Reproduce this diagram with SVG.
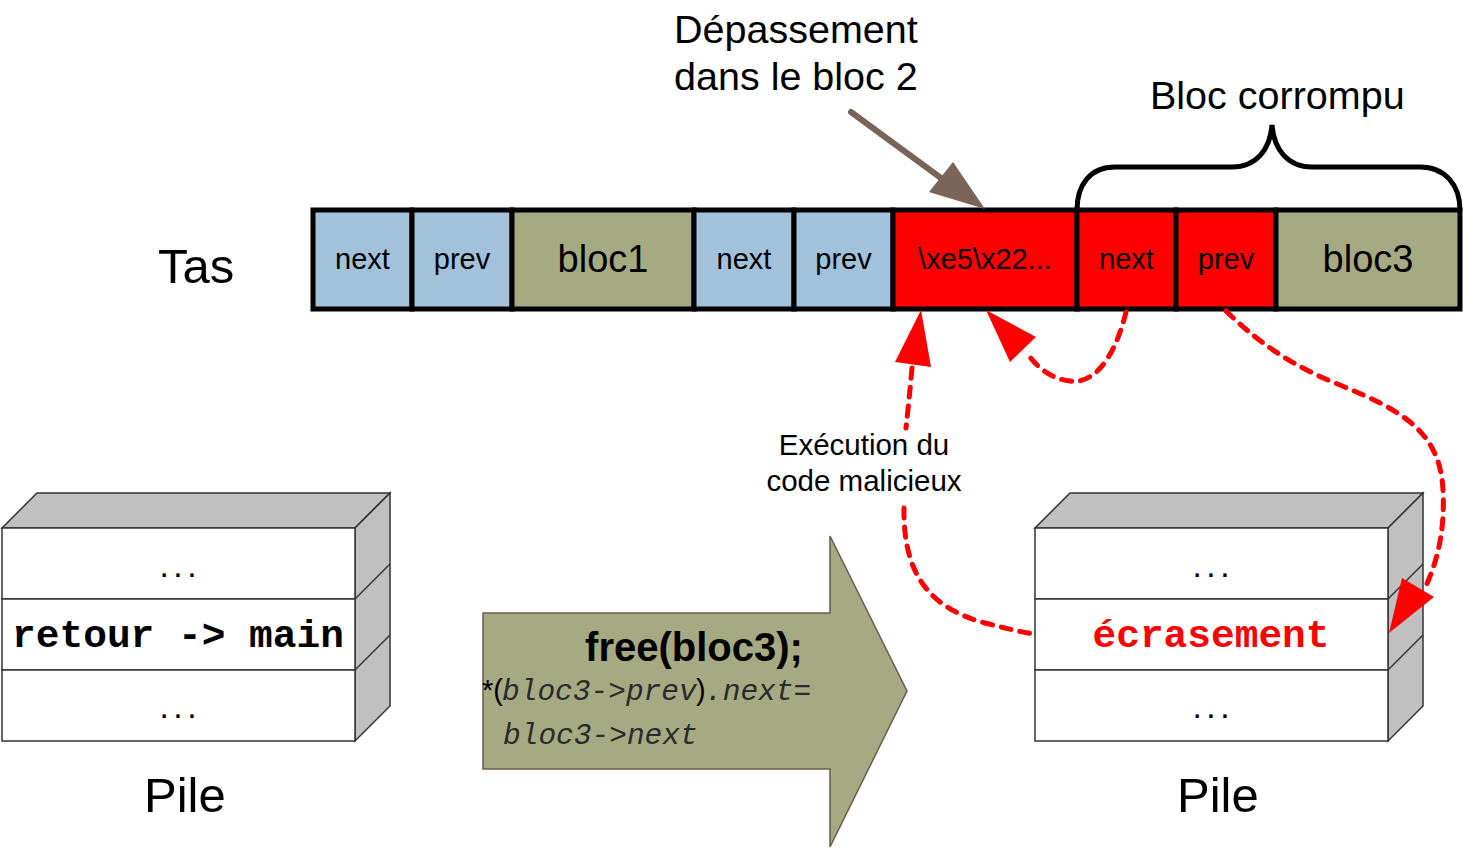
<svg xmlns="http://www.w3.org/2000/svg" width="1463" height="848" viewBox="0 0 1463 848">
<style>
.sans{font-family:"Liberation Sans",Arial,sans-serif;}
.mono{font-family:"Liberation Mono","Courier New",monospace;}
.cell{stroke:#000;stroke-width:5;}
.blue{fill:#a2c1da;}
.olive{fill:#a5aa82;}
.red{fill:#ff0000;}
.clab{font-family:"Liberation Sans",Arial,sans-serif;font-size:29px;text-anchor:middle;fill:#000;}
.blab{font-family:"Liberation Sans",Arial,sans-serif;font-size:38px;text-anchor:middle;fill:#000;}
.big{font-family:"Liberation Sans",Arial,sans-serif;font-size:49px;fill:#000;}
.note{font-family:"Liberation Sans",Arial,sans-serif;font-size:39.5px;fill:#000;}
.face{fill:#fff;stroke:#333;stroke-width:1.5;}
.side{fill:#c0c0c0;stroke:#333;stroke-width:1.5;}
.dots{font-family:"Liberation Mono","Courier New",monospace;font-size:23px;font-weight:bold;text-anchor:middle;}
.slab{font-family:"Liberation Mono","Courier New",monospace;font-size:39.5px;font-weight:bold;text-anchor:middle;}
.dash{fill:none;stroke:#ff0000;stroke-width:5;stroke-dasharray:10 9;stroke-linecap:round;}
.head{fill:#ff0000;}
.code{font-family:"Liberation Mono","Courier New",monospace;font-style:italic;font-size:29.5px;fill:#2a2a2a;}
</style>

<g id="tas-label"><text class="big" x="158" y="283" font-size="50">Tas</text></g>

<g id="heap">
  <g id="cell-next1"><rect class="cell blue" x="313" y="210" width="99" height="99"/><text class="clab" x="362.5" y="269">next</text></g>
  <g id="cell-prev1"><rect class="cell blue" x="412" y="210" width="100" height="99"/><text class="clab" x="462" y="269">prev</text></g>
  <g id="cell-bloc1"><rect class="cell olive" x="512" y="210" width="182" height="99"/><text class="blab" x="603" y="272">bloc1</text></g>
  <g id="cell-next2"><rect class="cell blue" x="694" y="210" width="100" height="99"/><text class="clab" x="744" y="269">next</text></g>
  <g id="cell-prev2"><rect class="cell blue" x="794" y="210" width="99" height="99"/><text class="clab" x="843.5" y="269">prev</text></g>
  <g id="cell-bloc2"><rect class="cell red" x="893" y="210" width="184" height="99"/><text class="clab" x="985" y="269">\xe5\x22...</text></g>
  <g id="cell-next3"><rect class="cell red" x="1077" y="210" width="99" height="99"/><text class="clab" x="1126.5" y="269">next</text></g>
  <g id="cell-prev3"><rect class="cell red" x="1176" y="210" width="100" height="99"/><text class="clab" x="1226" y="269">prev</text></g>
  <g id="cell-bloc3"><rect class="cell olive" x="1276" y="210" width="184" height="99"/><text class="blab" x="1368" y="272">bloc3</text></g>
</g>

<g id="depassement">
  <text class="note" x="674" y="43">Dépassement</text>
  <text class="note" x="674" y="90">dans le bloc 2</text>
  <line x1="851" y1="112" x2="945" y2="181" stroke="#7a6357" stroke-width="6" stroke-linecap="round"/>
  <polygon points="985,209 929,192 953,162" fill="#7a6357"/>
</g>

<g id="bloc-corrompu">
  <text class="note" x="1150" y="109">Bloc corrompu</text>
  <path d="M1077,210 C1077,185 1090,167 1115,167 L1232,167 C1256,167 1270,150 1272,125 C1274,150 1288,167 1312,167 L1420,167 C1445,167 1460,185 1460,210" fill="none" stroke="#000" stroke-width="5"/>
</g>

<g id="pile-left">
  <polygon class="side" points="2,528 37,493 390,493 355,528"/>
  <polygon class="side" points="355,528 390,493 390,706 355,741"/>
  <line x1="355" y1="599" x2="390" y2="564" stroke="#333" stroke-width="1.5"/>
  <line x1="355" y1="670" x2="390" y2="635" stroke="#333" stroke-width="1.5"/>
  <rect class="face" x="2" y="528" width="353" height="71"/>
  <rect class="face" x="2" y="599" width="353" height="71"/>
  <rect class="face" x="2" y="670" width="353" height="71"/>
  <text class="dots" x="178" y="577">...</text>
  <text class="slab" x="178" y="647">retour -&gt; main</text>
  <text class="dots" x="178" y="718">...</text>
  <text class="big" x="144" y="812">Pile</text>
</g>

<g id="pile-right">
  <polygon class="side" points="1035,528 1070,493 1423,493 1388,528"/>
  <polygon class="side" points="1388,528 1423,493 1423,706 1388,741"/>
  <line x1="1388" y1="599" x2="1423" y2="564" stroke="#333" stroke-width="1.5"/>
  <line x1="1388" y1="670" x2="1423" y2="635" stroke="#333" stroke-width="1.5"/>
  <rect class="face" x="1035" y="528" width="353" height="71"/>
  <rect class="face" x="1035" y="599" width="353" height="71"/>
  <rect class="face" x="1035" y="670" width="353" height="71"/>
  <text class="dots" x="1211" y="577">...</text>
  <text class="slab" x="1211" y="647" fill="#ff0000">écrasement</text>
  <text class="dots" x="1211" y="718">...</text>
  <text class="big" x="1177" y="812">Pile</text>
</g>

<g id="free-arrow">
  <polygon points="483,613 830,613 830,536 907,691 830,847 830,769 483,769" fill="#a5aa82" stroke="#6b5b4e" stroke-width="1.5"/>
  <text class="sans" x="694" y="661" font-size="40" font-weight="bold" text-anchor="middle">free(bloc3);</text>
  <text y="700"><tspan class="sans" x="482" font-size="29" fill="#000">*(</tspan><tspan class="code" x="502">bloc3-&gt;prev</tspan><tspan class="sans" x="696" font-size="29" fill="#000">)</tspan><tspan class="code" x="705">.next=</tspan></text>
  <text class="code" x="503" y="744">bloc3-&gt;next</text>
</g>

<g id="execution-label">
  <text class="sans" x="864" y="455" font-size="29.5" text-anchor="middle">Exécution du</text>
  <text class="sans" x="864" y="491" font-size="29.5" text-anchor="middle">code malicieux</text>
</g>

<g id="connectors">
  <path class="dash" d="M912,368 C910,390 908,410 906,428"/>
  <path class="dash" d="M904,508 C903,575 930,608 985,623 C1005,628 1020,632 1034,634"/>
  <polygon class="head" points="921,310 895,362 931,367"/>
  <path class="dash" d="M1126,312 C1118,345 1100,385 1070,381 C1050,379 1036,366 1026,352"/>
  <polygon class="head" points="986,310 1010,362 1036,337"/>
  <path class="dash" d="M1226,311 C1258,342 1290,365 1340,385 C1400,410 1440,430 1443,490 C1445,530 1438,560 1425,588"/>
  <polygon class="head" points="1389,633 1402,578 1434,597"/>
</g>
</svg>
